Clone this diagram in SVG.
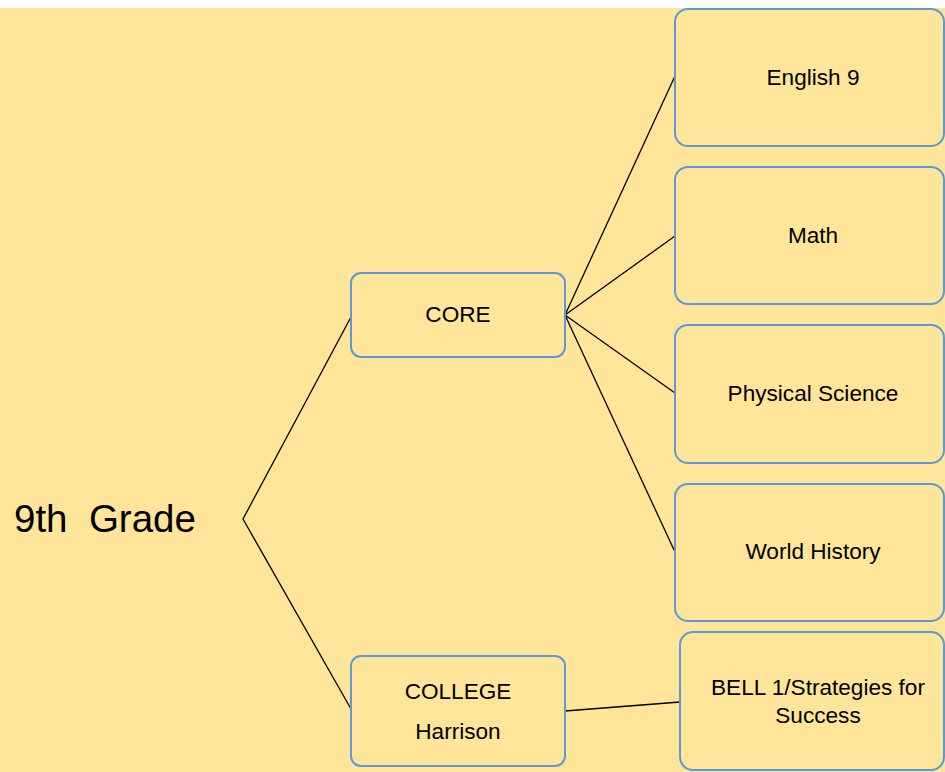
<svg xmlns="http://www.w3.org/2000/svg" width="945" height="772" viewBox="0 0 945 772">
<style>
.box{fill:#FFE599;stroke:#5B9BD5;stroke-width:2}
.t{font-family:"Liberation Sans",Arial,sans-serif;font-size:22.6px;fill:#000;text-anchor:middle}
.c{stroke:#000;stroke-width:1.3;fill:none}
</style>
<rect x="0" y="0" width="945" height="772" fill="#FFFFFF"/>
<rect x="0" y="8" width="945" height="764" fill="#FFE599"/>
<g id="connectors">
<polyline class="c" points="351,317 243,519 351,709"/>
<line class="c" x1="565" y1="315" x2="675" y2="76"/>
<line class="c" x1="565" y1="315" x2="675" y2="236"/>
<line class="c" x1="565" y1="315" x2="675" y2="393"/>
<line class="c" x1="565" y1="315" x2="675" y2="552"/>
<line class="c" x1="565" y1="711" x2="680" y2="702"/>
</g>
<g id="grade9">
<text x="14" y="532" style="font-family:'Liberation Sans',Arial,sans-serif;font-size:38.5px;fill:#000" xml:space="preserve">9th  Grade</text>
</g>
<g id="core">
<rect class="box" x="351" y="273" width="214" height="84" rx="10"/>
<text class="t" x="458" y="322">CORE</text>
</g>
<g id="college">
<rect class="box" x="351" y="656" width="214" height="110" rx="10"/>
<text class="t" x="458" y="699">COLLEGE</text>
<text class="t" x="458" y="739">Harrison</text>
</g>
<g id="english9">
<rect class="box" x="675" y="9" width="269" height="137" rx="13"/>
<text class="t" x="813" y="85">English 9</text>
</g>
<g id="math">
<rect class="box" x="675" y="167" width="269" height="137" rx="13"/>
<text class="t" x="813" y="243">Math</text>
</g>
<g id="physical-science">
<rect class="box" x="675" y="325" width="269" height="138" rx="13"/>
<text class="t" x="813" y="401">Physical Science</text>
</g>
<g id="world-history">
<rect class="box" x="675" y="484" width="269" height="137" rx="13"/>
<text class="t" x="813" y="559">World History</text>
</g>
<g id="bell1">
<rect class="box" x="680" y="632" width="264" height="138" rx="13"/>
<text class="t" x="818" y="695">BELL 1/Strategies for</text>
<text class="t" x="818" y="723">Success</text>
</g>
</svg>
